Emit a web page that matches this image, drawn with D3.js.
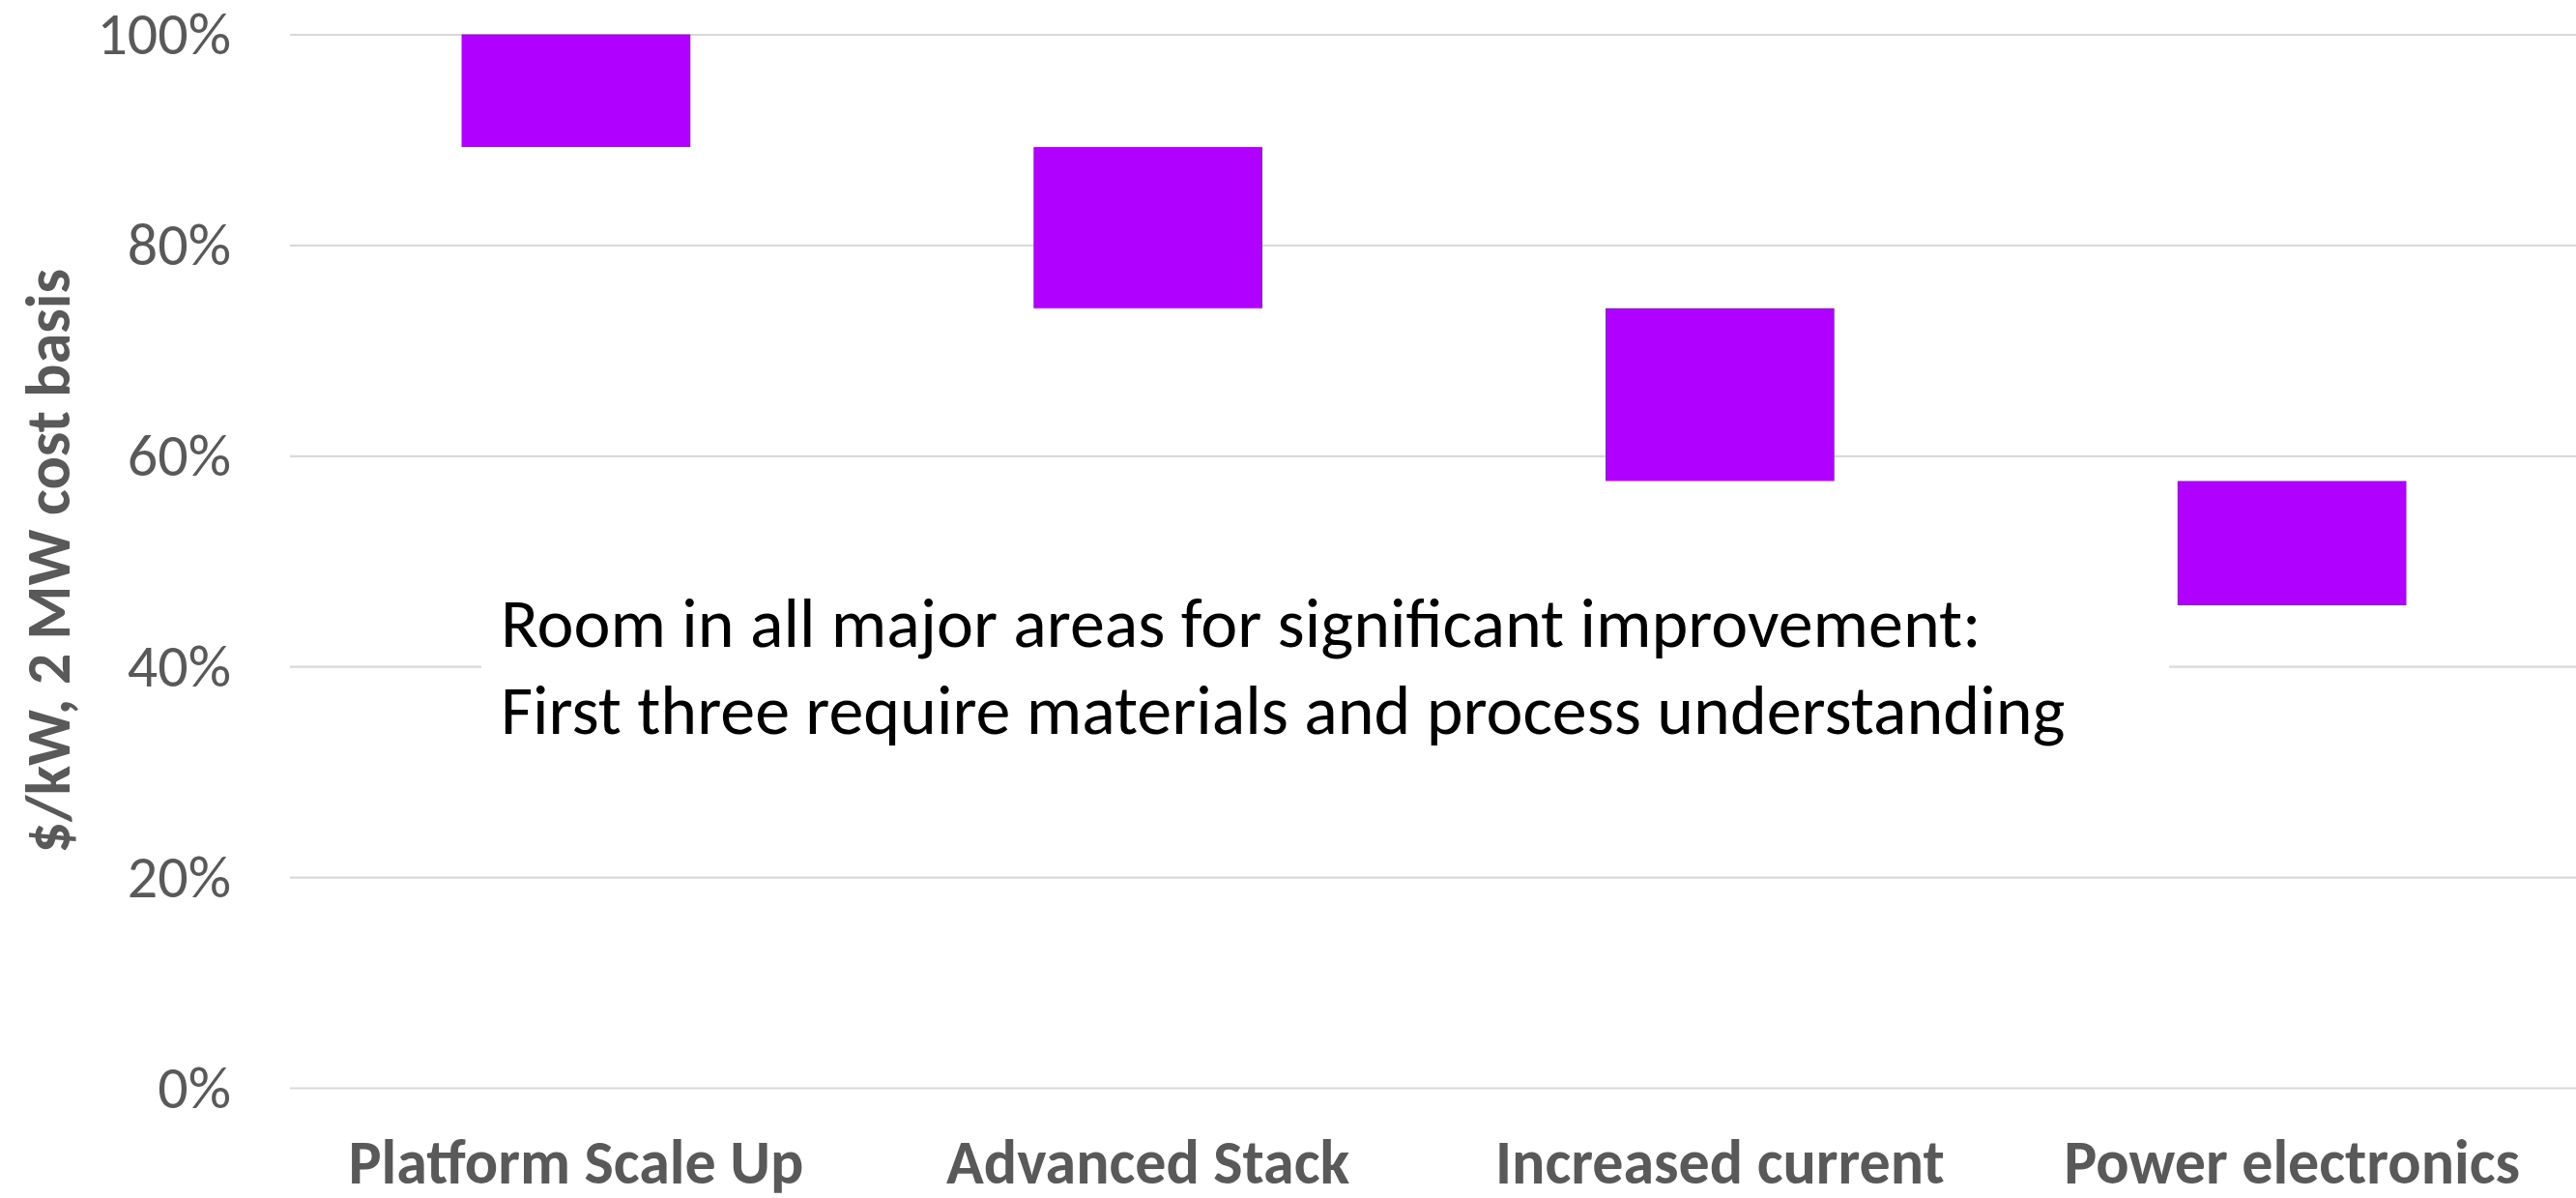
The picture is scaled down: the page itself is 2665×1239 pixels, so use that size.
<!DOCTYPE html>
<html>
<head>
<meta charset="utf-8">
<script src="https://cdn.jsdelivr.net/npm/d3@7"></script>
<style>
  html, body { margin: 0; padding: 0; background: #fff; }
  svg { display: block; }
</style>
</head>
<body>
<svg id="chart"></svg>
<script>
// Cost reduction steps: each bar floats from its starting share to its ending share
const categories = ["Platform Scale Up", "Advanced Stack", "Increased current", "Power electronics"];
const startValues = [1.000, 0.893, 0.740, 0.576];
const endValues   = [0.893, 0.740, 0.576, 0.458];
const yTicks = [0, 0.2, 0.4, 0.6, 0.8, 1.0];
const yTitle = "$/kW, 2 MW cost basis";
const noteLines = [
  "Room in all major areas for significant improvement:",
  "First three require materials and process understanding"
];

const W = 2665, H = 1239;
const plot = { left: 300, right: 2667, top: 35.5, bottom: 1125 };
const FONT = "Calibri, Carlito, Lato, 'Noto Sans', 'Open Sans', sans-serif";
const grey = "#595959";

const svg = d3.select("#chart").attr("width", W).attr("height", H)
  .style("font-family", FONT);

const x = d3.scaleBand().domain(categories)
  .range([plot.left, plot.right])
  .paddingInner(0.6).paddingOuter(0.3);
const y = d3.scaleLinear().domain([0, 1]).range([plot.bottom, plot.top]);

// Narrow the fallback face horizontally toward Calibri's proportions,
// keeping each text's anchor point fixed
function condense(sel, ratio, extra) {
  sel.each(function () {
    const ax = +(this.getAttribute("x") || 0);
    const prefix = extra || "";
    d3.select(this).attr("transform",
      `${prefix} translate(${ax},0) scale(${ratio},1) translate(${-ax},0)`);
  });
}
function ratioFor(text, size, weight, target) {
  const t = svg.append("text").attr("font-size", size).attr("font-weight", weight).text(text);
  const r = Math.min(1, target / t.node().getComputedTextLength());
  t.remove();
  return r;
}
const rRegular = ratioFor(noteLines[0], 72, "normal", 1535);
const rBold = ratioFor(categories[0], 64, "bold", 474);

// gridlines
const grid = svg.append("g").attr("transform", `translate(${plot.left},0)`)
  .call(d3.axisLeft(y).tickValues(yTicks).tickSize(-(plot.right - plot.left)).tickFormat(""));
grid.select(".domain").remove();
grid.selectAll("line").attr("stroke", "#d9d9d9").attr("stroke-width", 2.2);

// y tick labels
const yAxis = svg.append("g").attr("transform", `translate(${plot.left},0)`)
  .call(d3.axisLeft(y).tickValues(yTicks).tickSize(0).tickPadding(61).tickFormat(d3.format(".0%")));
yAxis.select(".domain").remove();
yAxis.selectAll("text")
  .attr("font-size", 62).attr("fill", grey).attr("dy", "0.33em")
  .style("font-family", FONT)
  .call(condense, rRegular);

// floating bars
svg.append("g").selectAll("rect")
  .data(categories.map((c, i) => ({ c, hi: startValues[i], lo: endValues[i] })))
  .join("rect")
  .attr("x", d => x(d.c))
  .attr("width", x.bandwidth())
  .attr("y", d => y(d.hi))
  .attr("height", d => y(d.lo) - y(d.hi))
  .attr("fill", "#b000ff");

// x category labels
const xAxis = svg.append("g").attr("transform", `translate(0,${plot.bottom})`)
  .call(d3.axisBottom(x).tickSize(0));
xAxis.select(".domain").remove();
xAxis.selectAll("text")
  .attr("y", 99).attr("dy", 0)
  .attr("font-size", 64).attr("font-weight", "bold").attr("fill", grey)
  .style("font-family", FONT)
  .call(condense, rBold);

// y axis title
svg.append("text")
  .attr("text-anchor", "middle")
  .attr("font-size", 64).attr("font-weight", "bold").attr("fill", grey)
  .text(yTitle)
  .call(condense, rBold, `translate(72,${(plot.top + plot.bottom) / 2}) rotate(-90)`);

// annotation box
const note = svg.append("g");
note.append("rect")
  .attr("x", 498).attr("y", 575).attr("width", 1746).attr("height", 230)
  .attr("fill", "#fff");
note.selectAll("text").data(noteLines).join("text")
  .attr("x", 518).attr("y", (d, i) => 669 + i * 90)
  .attr("font-size", 72).attr("fill", "#000")
  .text(d => d)
  .call(condense, rRegular);
</script>
</body>
</html>
